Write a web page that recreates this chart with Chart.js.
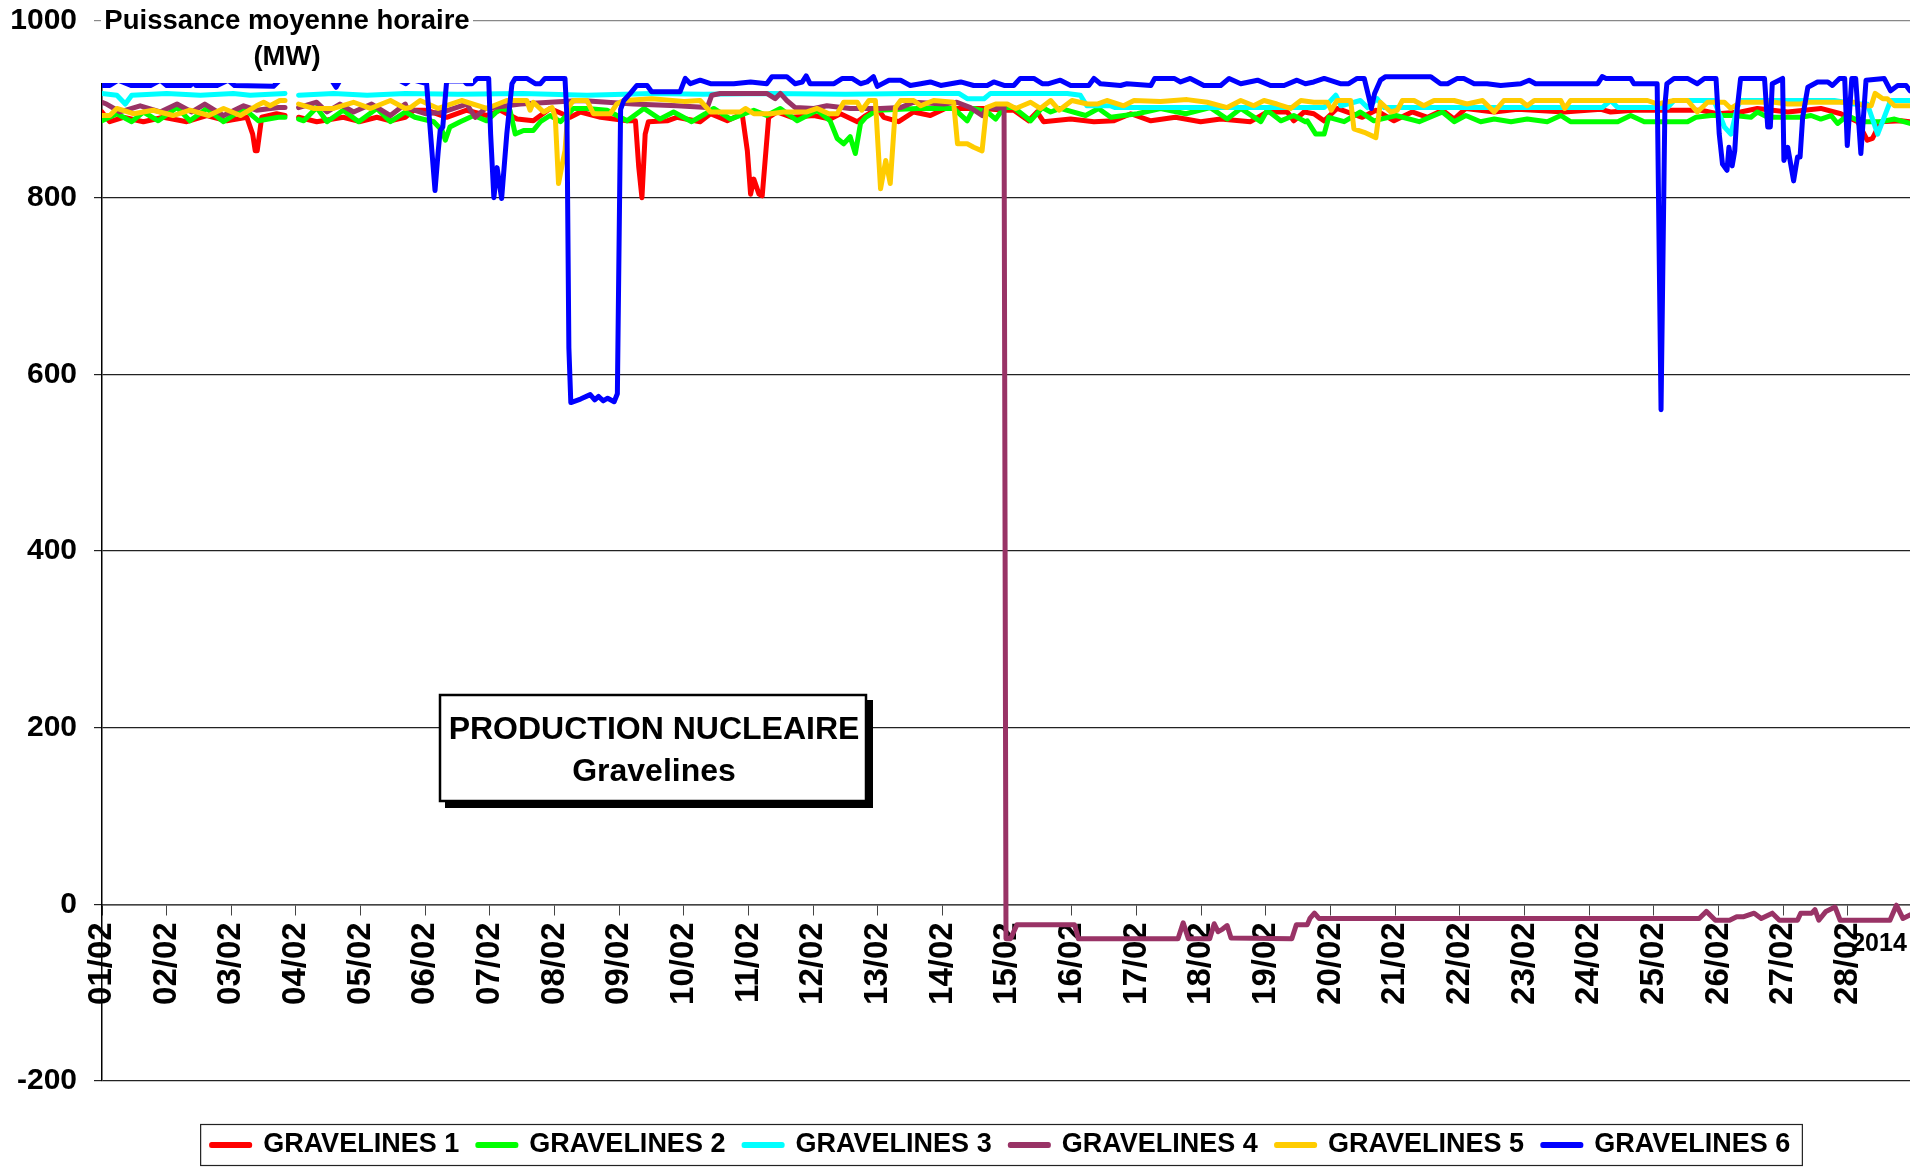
<!DOCTYPE html>
<html lang="fr">
<head>
<meta charset="utf-8">
<title>Production nucléaire Gravelines</title>
<script src="https://cdn.jsdelivr.net/npm/chart.js@4.4.1/dist/chart.umd.min.js"></script>
<style>
  html, body { margin: 0; padding: 0; background: #ffffff; }
  canvas { display: block; }
</style>
</head>
<body>
<canvas id="chart" width="1910" height="1168"></canvas>
<script>
// Axe des x : jours écoulés depuis le 01/02/2014 à 0h (données horaires)
const dayLabels = ['01/02', '02/02', '03/02', '04/02', '05/02', '06/02', '07/02',
    '08/02', '09/02', '10/02', '11/02', '12/02', '13/02', '14/02', '15/02', '16/02',
    '17/02', '18/02', '19/02', '20/02', '21/02', '22/02', '23/02', '24/02', '25/02',
    '26/02', '27/02', '28/02'];
const lastDay = 27.96;
const yMin = -200;
const yMax = 1000;
const yStep = 200;

const unitNames = ['GRAVELINES 1', 'GRAVELINES 2', 'GRAVELINES 3', 'GRAVELINES 4', 'GRAVELINES 5', 'GRAVELINES 6'];
const unitColors = ['#ff0000', '#00ff00', '#00ffff', '#993366', '#ffcc00', '#0000ff'];

// Puissance moyenne horaire (MW) : [jour, MW], null = trou dans les données
const g1 = [[0, 897], [0.12, 886], [0.33, 891], [0.64, 886], [0.95, 891], [1.31, 886], [1.62, 893],
    [1.93, 887], [2.24, 891], [2.33, 872], [2.37, 853], [2.40, 853], [2.47, 891], [2.70, 895],
    [2.83, 893], [2.93, null], [3.04, 891], [3.32, 886], [3.73, 891], [3.99, 886], [4.25, 891],
    [4.46, 887], [4.69, 891], [4.82, 899], [5.02, 899], [5.33, 891], [5.64, 899], [5.95, 893],
    [6.16, 899], [6.42, 889], [6.67, 887], [6.93, 901], [7.24, 891], [7.40, 897], [7.71, 891],
    [8.12, 887], [8.25, 887], [8.30, 835], [8.35, 800], [8.40, 872], [8.45, 886], [8.74, 887],
    [8.89, 891], [9.25, 886], [9.41, 895], [9.67, 887], [9.90, 895], [9.98, 853], [10.03, 804],
    [10.08, 821], [10.16, 804], [10.21, 802], [10.31, 891], [10.44, 897], [10.67, 891], [11.01, 893],
    [11.26, 889], [11.42, 895], [11.68, 886], [11.81, 893], [11.99, 901], [12.09, 891], [12.32, 886],
    [12.55, 897], [12.81, 893], [13.04, 901], [13.64, 901], [13.95, 899], [14.10, 899], [14.33, 887],
    [14.46, 897], [14.56, 886], [14.98, 889], [15.34, 886], [15.65, 887], [15.91, 895], [16.22, 887],
    [16.60, 891], [16.99, 886], [17.30, 889], [17.76, 886], [18.02, 897], [18.33, 897], [18.43, 887],
    [18.59, 897], [18.74, 895], [18.90, 887], [19.10, 901], [19.49, 891], [19.70, 899], [19.98, 887],
    [20.26, 897], [20.50, 891], [20.73, 899], [20.91, 889], [21.09, 901], [21.53, 897], [21.89, 900],
    [22.61, 897], [23.18, 900], [23.33, 897], [23.69, 899], [24.73, 899], [24.98, 895], [25.34, 897],
    [25.60, 901], [26.07, 897], [26.58, 901], [26.89, 895], [27.15, 886], [27.30, 865], [27.38, 867],
    [27.51, 886], [27.82, 887], [27.96, 886]];

const g2 = [[0, 887], [0.23, 895], [0.46, 886], [0.64, 897], [0.87, 887], [1.16, 902], [1.36, 887],
    [1.62, 901], [1.88, 886], [2.19, 901], [2.42, 887], [2.73, 891], [2.83, 891], [2.93, null],
    [3.04, 889], [3.12, 887], [3.32, 902], [3.48, 886], [3.73, 899], [3.97, 886], [4.25, 901],
    [4.46, 886], [4.69, 897], [4.84, 891], [5.13, 886], [5.26, 876], [5.31, 865], [5.38, 880],
    [5.54, 886], [5.75, 893], [5.95, 887], [6.16, 901], [6.31, 899], [6.39, 872], [6.52, 876],
    [6.67, 876], [6.78, 886], [6.93, 893], [7.09, 886], [7.29, 901], [7.50, 901], [7.81, 899],
    [8.12, 887], [8.38, 901], [8.63, 889], [8.84, 897], [9.12, 886], [9.33, 895], [9.46, 901],
    [9.72, 889], [10.08, 899], [10.28, 893], [10.49, 901], [10.75, 887], [11.06, 899], [11.26, 887],
    [11.37, 867], [11.47, 861], [11.57, 869], [11.65, 850], [11.73, 884], [11.81, 891], [11.99, 899],
    [12.61, 901], [13.17, 901], [13.38, 887], [13.48, 901], [13.69, 897], [13.82, 889], [13.95, 902],
    [14.10, 902], [14.36, 887], [14.54, 902], [14.67, 897], [14.82, 901], [15.21, 893], [15.41, 901],
    [15.60, 891], [16.01, 895], [16.37, 901], [16.76, 895], [17.14, 902], [17.40, 889], [17.61, 901],
    [17.92, 886], [18.02, 899], [18.23, 887], [18.43, 893], [18.61, 886], [18.64, 887], [18.77, 872],
    [18.90, 872], [18.97, 891], [19.21, 886], [19.46, 897], [19.67, 887], [20.01, 893], [20.37, 886],
    [20.73, 897], [20.91, 886], [21.09, 893], [21.32, 886], [21.53, 889], [21.79, 886], [22.04, 889],
    [22.35, 886], [22.56, 893], [22.71, 886], [23.26, 886], [23.44, 886], [23.64, 893], [23.85, 886],
    [24.52, 886], [24.65, 891], [24.88, 893], [25.24, 893], [25.50, 891], [25.60, 897], [25.76, 891],
    [26.27, 891], [26.43, 893], [26.58, 889], [26.74, 893], [26.84, 884], [26.99, 893], [27.20, 886],
    [27.51, 886], [27.72, 889], [27.96, 884]];

const g3 = [[0, 918], [0.23, 916], [0.36, 906], [0.46, 916], [1.00, 918], [1.52, 916], [2.03, 918],
    [2.29, 916], [2.83, 918], [2.93, null], [3.04, 916], [3.58, 918], [4.10, 916], [4.69, 918],
    [5.50, 917], [6.50, 918], [7.50, 916], [8.50, 918], [9.30, 917], [10.30, 918], [11.50, 917],
    [12.50, 918], [13.25, 918], [13.38, 912], [13.64, 912], [13.74, 918], [14.50, 918], [14.93, 918],
    [15.13, 916], [15.23, 904], [15.60, 904], [15.67, 902], [17.00, 902], [18.50, 902], [18.90, 902],
    [19.08, 916], [19.16, 904], [19.46, 910], [19.57, 902], [19.72, 912], [19.83, 902], [21.00, 902],
    [23.20, 902], [23.33, 910], [23.44, 902], [24.21, 902], [24.31, 910], [24.93, 910], [25.09, 880],
    [25.19, 872], [25.29, 902], [25.34, 910], [26.07, 910], [26.79, 910], [27.10, 906], [27.30, 906],
    [27.46, 872], [27.56, 891], [27.66, 910], [27.96, 910]];

const g4 = [[0, 908], [0.07, 906], [0.28, 897], [0.59, 904], [0.90, 897], [1.16, 906], [1.39, 897],
    [1.59, 906], [1.88, 893], [2.19, 904], [2.39, 899], [2.73, 902], [2.83, 902], [2.93, null],
    [3.04, 902], [3.32, 908], [3.48, 897], [3.68, 906], [3.89, 897], [4.17, 906], [4.46, 893],
    [4.69, 906], [4.71, 902], [5.00, 895], [5.28, 897], [5.64, 906], [5.77, 891], [5.93, 901],
    [6.47, 906], [6.93, 908], [7.40, 910], [7.81, 908], [8.22, 906], [8.89, 904], [9.36, 902],
    [9.43, 916], [9.56, 918], [10.28, 918], [10.41, 912], [10.49, 918], [10.59, 910], [10.72, 902],
    [11.01, 901], [11.21, 904], [11.57, 901], [12.04, 901], [12.35, 902], [12.55, 908], [13.02, 906],
    [13.22, 908], [13.43, 902], [13.61, 893], [13.69, 902], [13.87, 901], [13.95, 903], [13.98, -39],
    [14.05, -39], [14.15, -23], [15.04, -23], [15.10, -39], [16.64, -39], [16.72, -21], [16.80, -39],
    [17.13, -39], [17.20, -22], [17.26, -31], [17.33, -28], [17.40, -24], [17.46, -38], [18.40, -39],
    [18.47, -23], [18.64, -23], [18.68, -16], [18.75, -10], [18.82, -16], [24.70, -16], [24.81, -8],
    [24.95, -18], [25.17, -18], [25.28, -14], [25.39, -14], [25.55, -10], [25.66, -16], [25.83, -10],
    [25.94, -18], [26.22, -18], [26.27, -10], [26.44, -10], [26.49, -6], [26.55, -18], [26.66, -8],
    [26.80, -3], [26.88, -18], [27.65, -18], [27.75, -1], [27.85, -16], [27.96, -12]];

const g5 = [[0, 893], [0.12, 893], [0.23, 901], [0.49, 895], [0.79, 899], [1.10, 893], [1.36, 899],
    [1.65, 893], [1.88, 901], [2.14, 893], [2.39, 904], [2.50, 908], [2.60, 904], [2.75, 910],
    [2.83, 910], [2.93, null], [3.04, 906], [3.27, 901], [3.58, 901], [3.89, 908], [4.15, 901],
    [4.46, 910], [4.69, 901], [4.77, 902], [4.92, 910], [5.20, 901], [5.56, 910], [5.95, 901],
    [6.26, 910], [6.57, 910], [6.62, 899], [6.67, 908], [6.83, 897], [6.96, 902], [7.01, 891],
    [7.06, 816], [7.11, 835], [7.16, 853], [7.21, 902], [7.29, 910], [7.50, 910], [7.60, 895],
    [7.86, 895], [7.96, 906], [8.07, 910], [8.50, 912], [9.00, 909], [9.25, 910], [9.41, 897],
    [9.87, 897], [9.95, 901], [10.08, 895], [10.34, 895], [10.54, 897], [10.90, 897], [11.06, 901],
    [11.24, 895], [11.37, 895], [11.47, 908], [11.68, 908], [11.75, 899], [11.86, 910], [11.96, 910],
    [12.04, 810], [12.12, 842], [12.19, 816], [12.27, 902], [12.35, 910], [12.55, 910], [12.66, 904],
    [12.86, 910], [13.17, 908], [13.23, 861], [13.38, 861], [13.48, 857], [13.61, 853], [13.68, 902],
    [13.82, 906], [14.00, 906], [14.13, 901], [14.36, 908], [14.51, 901], [14.67, 910], [14.80, 899],
    [15.00, 910], [15.24, 906], [15.39, 906], [15.54, 910], [15.80, 904], [15.96, 910], [16.37, 909],
    [16.78, 911], [17.09, 908], [17.40, 902], [17.61, 910], [17.81, 904], [17.97, 910], [18.17, 906],
    [18.38, 901], [18.54, 910], [18.74, 908], [18.95, 908], [19.01, 899], [19.10, 910], [19.31, 910],
    [19.36, 878], [19.52, 874], [19.70, 868], [19.77, 908], [19.93, 897], [20.03, 899], [20.11, 910],
    [20.29, 910], [20.44, 904], [20.60, 910], [20.91, 910], [21.11, 906], [21.35, 910], [21.53, 897],
    [21.68, 910], [21.94, 910], [22.04, 904], [22.15, 910], [22.56, 910], [22.62, 901], [22.71, 910],
    [23.26, 910], [23.90, 910], [24.06, 906], [24.31, 910], [24.52, 910], [24.67, 897], [24.83, 908],
    [25.09, 908], [25.19, 901], [25.34, 908], [25.86, 908], [26.07, 906], [26.27, 906], [26.38, 908],
    [27.10, 908], [27.25, 904], [27.36, 904], [27.42, 918], [27.54, 912], [27.61, 912], [27.72, 904],
    [27.96, 904]];

const g6 = [[0, 927], [0.12, 927], [0.25, 933], [0.45, 927], [0.75, 927], [0.90, 933], [1.00, 927],
    [1.37, 927], [1.41, 933], [1.45, 927], [1.78, 927], [1.95, 933], [2.05, 927], [2.65, 926],
    [2.75, 933], [2.83, 934], [2.93, null], [3.04, 934], [3.55, 933], [3.62, 925], [3.68, 933],
    [4.60, 933], [4.70, 929], [4.78, 934], [5.02, 929], [5.15, 808], [5.20, 853], [5.23, 876],
    [5.27, 880], [5.33, 932], [5.60, 932], [5.64, 929], [5.72, 929], [5.80, 935], [5.98, 935],
    [6.01, 872], [6.06, 800], [6.11, 834], [6.18, 799], [6.26, 872], [6.34, 929], [6.39, 935],
    [6.57, 935], [6.70, 929], [6.78, 929], [6.85, 935], [7.16, 935], [7.19, 891], [7.22, 630],
    [7.25, 568], [7.40, 572], [7.55, 577], [7.62, 571], [7.68, 575], [7.75, 570], [7.82, 573],
    [7.92, 569], [7.97, 578], [8.02, 900], [8.07, 910], [8.17, 918], [8.27, 927], [8.43, 927],
    [8.50, 920], [8.94, 920], [9.02, 935], [9.10, 929], [9.25, 933], [9.41, 929], [9.77, 929],
    [10.03, 931], [10.28, 929], [10.36, 937], [10.59, 937], [10.72, 929], [10.83, 931], [10.89, 938],
    [10.95, 929], [11.32, 929], [11.45, 935], [11.60, 935], [11.73, 929], [11.83, 931], [11.93, 937],
    [11.99, 926], [12.17, 933], [12.35, 933], [12.50, 927], [12.66, 929], [12.81, 931], [12.97, 927],
    [13.28, 931], [13.48, 927], [13.69, 927], [13.79, 931], [13.95, 927], [14.10, 927], [14.20, 935],
    [14.41, 935], [14.54, 929], [14.64, 929], [14.82, 933], [14.98, 927], [15.26, 927], [15.34, 935],
    [15.44, 929], [15.75, 927], [15.85, 929], [16.22, 927], [16.28, 935], [16.58, 935], [16.68, 931],
    [16.83, 935], [17.04, 927], [17.30, 927], [17.43, 935], [17.61, 929], [17.87, 933], [18.07, 927],
    [18.28, 927], [18.48, 933], [18.61, 929], [18.74, 931], [18.90, 935], [19.15, 929], [19.28, 929],
    [19.41, 935], [19.52, 935], [19.59, 914], [19.63, 901], [19.68, 918], [19.77, 933], [19.85, 937],
    [20.55, 937], [20.70, 929], [20.81, 929], [20.96, 935], [21.06, 935], [21.22, 929], [21.42, 929],
    [21.63, 927], [21.94, 929], [22.07, 933], [22.17, 929], [23.13, 929], [23.20, 937], [23.26, 935],
    [23.64, 935], [23.69, 929], [24.05, 929], [24.11, 560], [24.17, 905], [24.20, 929], [24.31, 935],
    [24.52, 935], [24.67, 929], [24.78, 935], [24.96, 935], [25.01, 872], [25.06, 838], [25.13, 831],
    [25.16, 857], [25.21, 836], [25.25, 853], [25.29, 902], [25.34, 935], [25.71, 935], [25.76, 880],
    [25.80, 880], [25.83, 929], [25.99, 935], [26.01, 842], [26.07, 857], [26.16, 819], [26.22, 846],
    [26.26, 846], [26.30, 891], [26.38, 925], [26.53, 931], [26.69, 931], [26.76, 927], [26.87, 935],
    [26.95, 935], [26.99, 859], [27.06, 935], [27.12, 935], [27.20, 850], [27.28, 933], [27.56, 935],
    [27.66, 921], [27.77, 927], [27.90, 927], [27.96, 921]];

const unitSeries = [g1, g2, g3, g4, g5, g6];

const FONT = "'Liberation Sans', Arial, sans-serif";

// Titre, encadré et légende encadrée
const decorations = {
    id: 'decorations',
    afterLayout(chart) {
        const lg = chart.legend;
        lg.left += 46;
        lg.right += 46;
        lg.top += 31.8;
        lg.bottom += 31.8;
    },
    afterDatasetsDraw(chart) {
        const ctx = chart.ctx;
        ctx.save();
        // cartouche du titre d'axe (masque le haut des courbes)
        ctx.fillStyle = '#ffffff';
        ctx.fillRect(101, 0, 372, 83);
        ctx.fillStyle = '#000000';
        ctx.font = 'bold 27.5px ' + FONT;
        ctx.textAlign = 'center';
        ctx.textBaseline = 'middle';
        ctx.fillText('Puissance moyenne horaire', 287, 21);
        ctx.fillText('(MW)', 287, 57);

        // encadré "PRODUCTION NUCLEAIRE"
        ctx.fillStyle = '#000000';
        ctx.fillRect(445, 700, 428, 108);
        ctx.fillStyle = '#ffffff';
        ctx.fillRect(440, 695, 426, 106);
        ctx.strokeStyle = '#000000';
        ctx.lineWidth = 2.5;
        ctx.strokeRect(440, 695, 426, 106);
        ctx.fillStyle = '#000000';
        ctx.font = 'bold 32px ' + FONT;
        ctx.fillText('PRODUCTION NUCLEAIRE', 654, 730);
        ctx.fillText('Gravelines', 654, 772);

        ctx.font = 'bold 25px ' + FONT;
        ctx.fillText('2014', 1879, 944);
        ctx.restore();
    },
    afterDraw(chart) {
        const lg = chart.legend;
        const pad = lg.options.labels.padding;
        const startX = (lg.left + pad + lg.right - lg.lineWidths[0]) / 2;
        const midY = lg.top + pad + 13.5;
        const ctx = chart.ctx;
        ctx.save();
        ctx.strokeStyle = '#222222';
        ctx.lineWidth = 1.2;
        ctx.strokeRect(startX - 11, midY - 20.5, lg.lineWidths[0] - pad + 23, 41);
        ctx.restore();
    }
};

new Chart(document.getElementById('chart'), {
    type: 'line',
    data: {
        datasets: unitSeries.map((series, i) => ({
            label: unitNames[i],
            data: series.map(([day, mw]) => ({ x: day, y: mw })),
            borderColor: unitColors[i],
            backgroundColor: unitColors[i],
            borderWidth: 5,
            borderJoinStyle: 'round',
            borderCapStyle: 'round',
            pointRadius: 0,
            tension: 0,
            spanGaps: false,
            order: unitSeries.length - i
        }))
    },
    options: {
        responsive: false,
        devicePixelRatio: 1,
        animation: false,
        layout: {
            padding: { top: 21, right: 0, bottom: 31.3, left: 0 }
        },
        plugins: {
            legend: {
                position: 'bottom',
                labels: {
                    color: '#000000',
                    font: { family: FONT, size: 27, weight: 'bold' },
                    boxWidth: 38,
                    boxHeight: 1,
                    padding: 18.7,
                    sort: (a, b) => a.datasetIndex - b.datasetIndex
                }
            },
            title: { display: false },
            tooltip: { enabled: false }
        },
        scales: {
            x: {
                type: 'linear',
                position: { y: 0 },
                min: 0,
                max: lastDay,
                afterBuildTicks: (scale) => {
                    scale.ticks = dayLabels.map((_, i) => ({ value: i }));
                },
                ticks: {
                    autoSkip: false,
                    maxRotation: 90,
                    minRotation: 90,
                    padding: 8,
                    color: '#000000',
                    font: { family: FONT, size: 33, weight: 'bold' },
                    callback: (value) => dayLabels[value]
                },
                grid: {
                    drawOnChartArea: false,
                    drawTicks: true,
                    tickLength: 10,
                    color: '#444444'
                },
                border: { display: true, color: '#444444', width: 1.5 }
            },
            y: {
                position: 'left',
                min: yMin,
                max: yMax,
                afterFit: (scale) => {
                    scale.width = 102;
                    scale.paddingTop = 0;
                    scale.paddingBottom = 0;
                },
                ticks: {
                    stepSize: yStep,
                    padding: 17,
                    color: '#000000',
                    font: { family: FONT, size: 30, weight: 'bold' },
                    callback: (value) => String(value)
                },
                grid: {
                    color: (c) => c.tick && c.tick.value === yMax ? '#888888' : '#222222',
                    lineWidth: 1.2,
                    tickLength: 8
                },
                border: { display: true, color: '#000000', width: 1.5 }
            }
        }
    },
    plugins: [decorations]
});
</script>
</body>
</html>
